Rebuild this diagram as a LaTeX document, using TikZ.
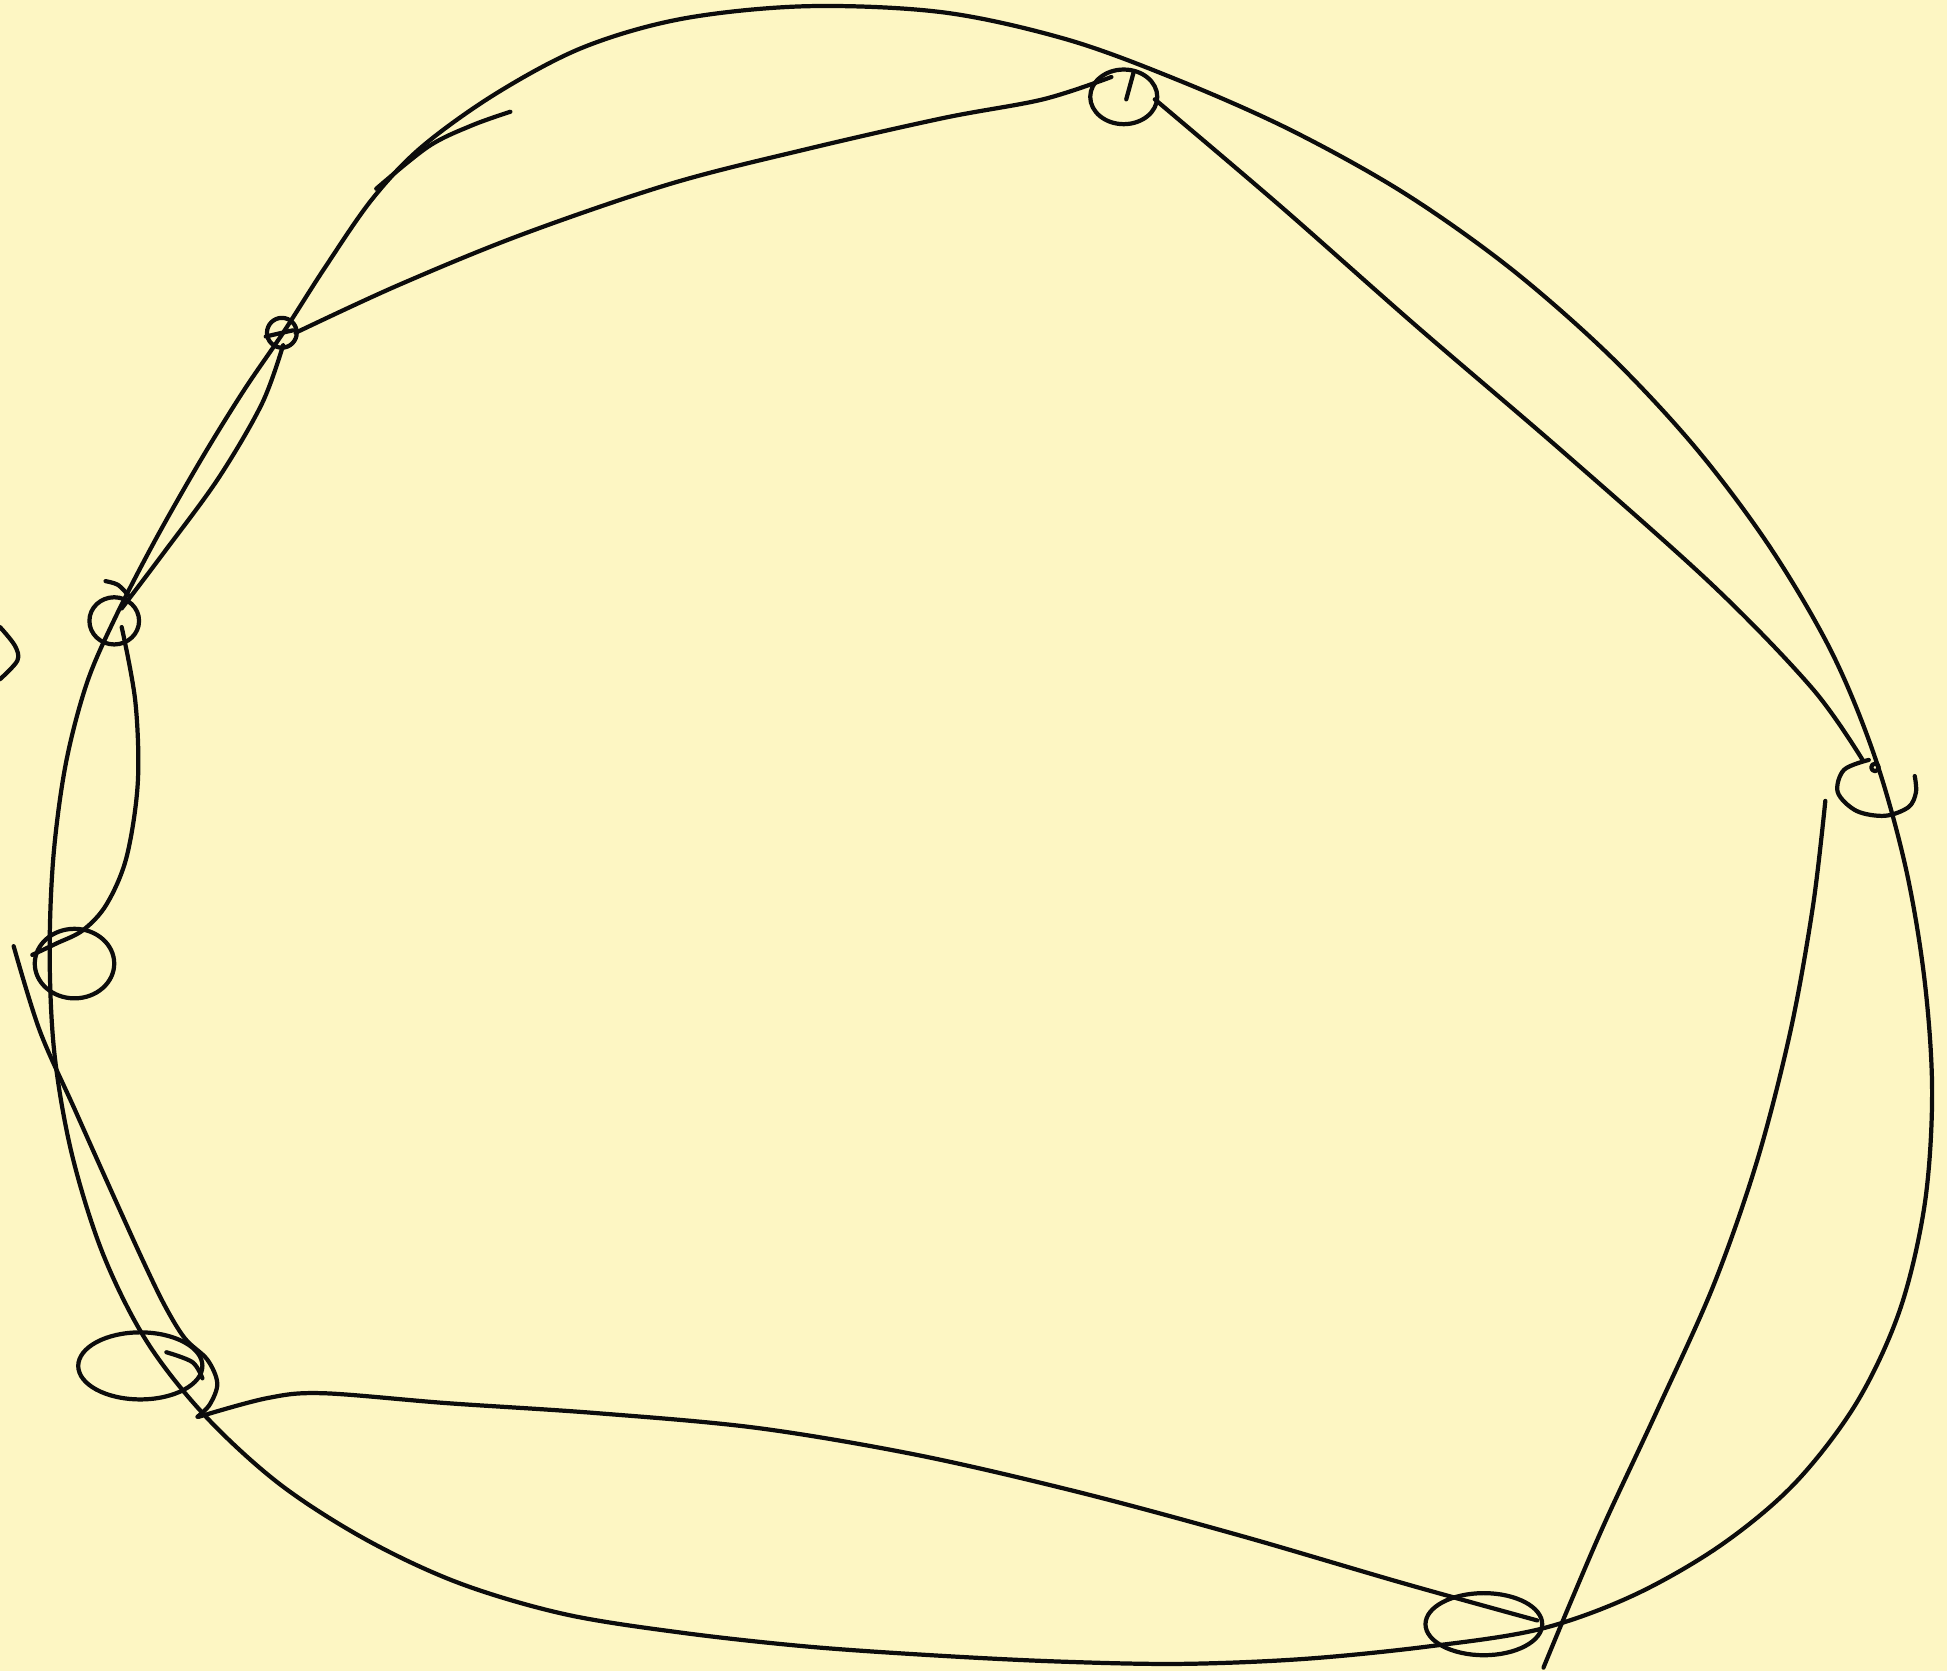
\documentclass[tikz,border=0pt]{standalone}
\definecolor{paper}{RGB}{253,246,195}
\definecolor{ink}{RGB}{12,12,12}
\tikzset{pen/.style={draw=ink,line width=3.4pt,line cap=round,line join=round},
  sm/.style={smooth,tension=0.55}}
\begin{document}
\begin{tikzpicture}[x=1pt,y=-1pt]
\fill[paper] (0,0) rectangle (1568,1346);
\useasboundingbox (0,0) rectangle (1568,1346);
% vertices
\coordinate (v1) at (227,268);
\coordinate (v2) at (92,500);
\coordinate (v3) at (60,776);
\coordinate (v4) at (113,1100);
\coordinate (v5) at (1195,1308);
\coordinate (v6) at (1511,634);
\coordinate (v7) at (905,78);
% outer closed curve
\draw[pen] plot[smooth cycle,tension=0.55] coordinates {(650,5) (760,10) (860,32) (950,65) (1040,105) (1130,155) (1215,215) (1295,285) (1365,360) (1425,440) (1475,525) (1510,610) (1535,700) (1550,790) (1556,880) (1550,970) (1530,1055) (1495,1130) (1445,1195) (1385,1245) (1315,1285) (1240,1312) (1150,1326) (1050,1336) (950,1340) (850,1338) (750,1333) (650,1326) (550,1315) (455,1300) (370,1275) (295,1240) (225,1195) (165,1140) (118,1080) (83,1010) (58,930) (44,850) (40,770) (43,690) (53,615) (70,550) (93,497) (125,435) (162,370) (196,315) (228,268) (262,215) (300,160) (340,118) (400,75) (470,38) (550,15)};
% branch stroke near top-left
\draw[pen] plot[sm] coordinates {(303,152) (345,118) (380,101) (411,90)};
% edge v1 - v7
\draw[pen] plot[sm] coordinates {(238,268) (320,230) (420,189) (540,148) (650,120) (760,95) (840,80) (895,62)};
% loop v7
\draw[pen] (v7) ellipse[x radius=27,y radius=22];
\draw[pen] (907,80) -- (913,58);
% edge v7 - v6
\draw[pen] plot[sm] coordinates {(930,80) (1030,165) (1140,262) (1260,365) (1380,472) (1460,555) (1500,612)};
% loop v6
\draw[pen] plot[sm] coordinates {(1505,612) (1485,620) (1480,638) (1495,653) (1518,657) (1537,650) (1543,638) (1542,625)};
\draw[pen] (1510,618) circle[radius=3];
% edge v6 - v5
\draw[pen] plot[sm] coordinates {(1470,645) (1460,730) (1442,830) (1415,935) (1380,1035) (1335,1135) (1293,1225) (1265,1290) (1243,1343)};
% loop v5
\draw[pen] (v5) ellipse[x radius=47,y radius=25];
% edge v5 - v4
\draw[pen] plot[sm] coordinates {(1238,1305) (1130,1275) (1000,1237) (870,1202) (740,1172) (610,1150) (480,1138) (360,1130) (260,1122) (215,1126) (160,1141)};
% loop v4
\draw[pen] (v4) ellipse[x radius=50,y radius=27];
\draw[pen] plot[sm] coordinates {(134,1089) (155,1097) (163,1110)};
% edge v3 - v4 with curl
\draw[pen] plot[sm] coordinates {(11,762) (32,830) (60,893) (90,960) (115,1015) (133,1052) (149,1078) (167,1095) (175,1114) (169,1131) (159,1141)};
% loop v3
\draw[pen] (v3) ellipse[x radius=32,y radius=28];
% edge v2 - v3
\draw[pen] plot[sm] coordinates {(98,505) (109,565) (111,630) (102,690) (86,728) (67,749) (45,760) (26,769)};
% second stroke v1 - v2
\draw[pen] plot[sm] coordinates {(228,278) (211,325) (176,385) (132,445) (98,490)};
% loop v2
\draw[pen] (v2) ellipse[x radius=20,y radius=19];
\draw[pen] plot[sm] coordinates {(85,468) (95,471) (103,479)};
% loop v1
\draw[pen] (v1) circle[radius=12];
\draw[pen] (214,271) -- (236,266);
% far-left partial arc
\draw[pen] plot[sm] coordinates {(0,505) (12,520) (14,532) (0,547)};
\end{tikzpicture}
\end{document}
